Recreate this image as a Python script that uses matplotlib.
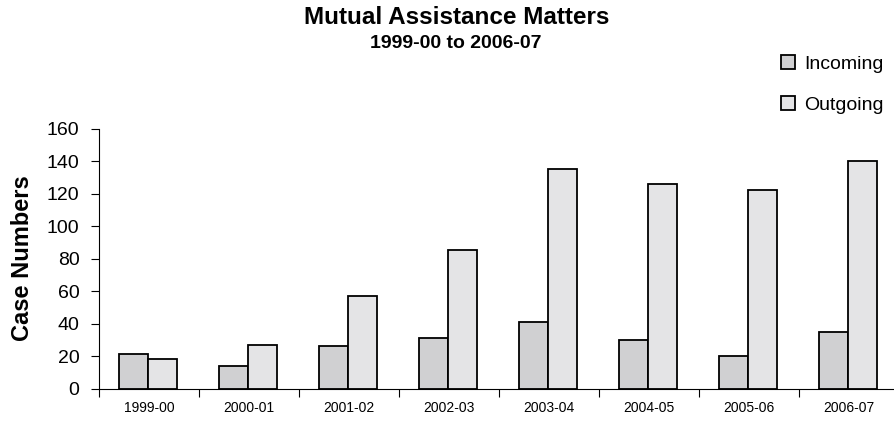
import matplotlib.pyplot as plt
import numpy as np

plt.rcParams["font.family"] = ["Liberation Sans", "DejaVu Sans"]

years = ["1999-00", "2000-01", "2001-02", "2002-03",
         "2003-04", "2004-05", "2005-06", "2006-07"]
incoming = [21, 14, 26, 31, 41, 30, 20, 35]
outgoing = [18, 27, 57, 85, 135, 126, 122, 140]

W, H = 895, 423
fig = plt.figure(figsize=(W / 100, H / 100), dpi=100)
ax = fig.add_axes([99 / W, 34.5 / H, 800 / W, 260 / H])

x = np.arange(len(years))
bw = 0.29
ax.bar(x - bw / 2 - 0.01, incoming, bw, color="#d0d0d2", edgecolor="black",
       linewidth=1.3, label="Incoming")
ax.bar(x + bw / 2 - 0.01, outgoing, bw, color="#e4e4e6", edgecolor="black",
       linewidth=1.3, label="Outgoing")

ax.set_xlim(-0.5, len(years) - 0.5)
ax.set_ylim(0, 160)
ax.set_yticks(range(0, 161, 20))
ax.tick_params(axis="y", labelsize=14, length=6, width=0.8, pad=8)

# labels sit under each category, ticks mark the category boundaries
ax.set_xticks(x)
ax.set_xticklabels(years, fontsize=10)
ax.tick_params(axis="x", which="major", length=0, pad=9)
ax.set_xticks(np.arange(-0.5, len(years)), minor=True)
ax.tick_params(axis="x", which="minor", length=6, width=0.8)

for side in ("top", "right"):
    ax.spines[side].set_visible(False)
for side in ("left", "bottom"):
    ax.spines[side].set_linewidth(0.8)

ax.set_ylabel("Case Numbers", fontsize=17, fontweight="bold", labelpad=9)

fig.text(457 / W, 1 - 17 / H, "Mutual Assistance Matters", ha="center",
         va="center", fontsize=17.5, fontweight="bold")
fig.text(456 / W, 1 - 43 / H, "1999-00 to 2006-07", ha="center",
         va="center", fontsize=14, fontweight="bold")

fig.legend(loc="upper left", bbox_to_anchor=(781 / W, 1 - 55 / H),
           frameon=False, fontsize=14, handlelength=0.7, handleheight=0.7,
           handletextpad=0.5, labelspacing=1.2, borderpad=0, borderaxespad=0)

fig.savefig("out.png", dpi=100)
